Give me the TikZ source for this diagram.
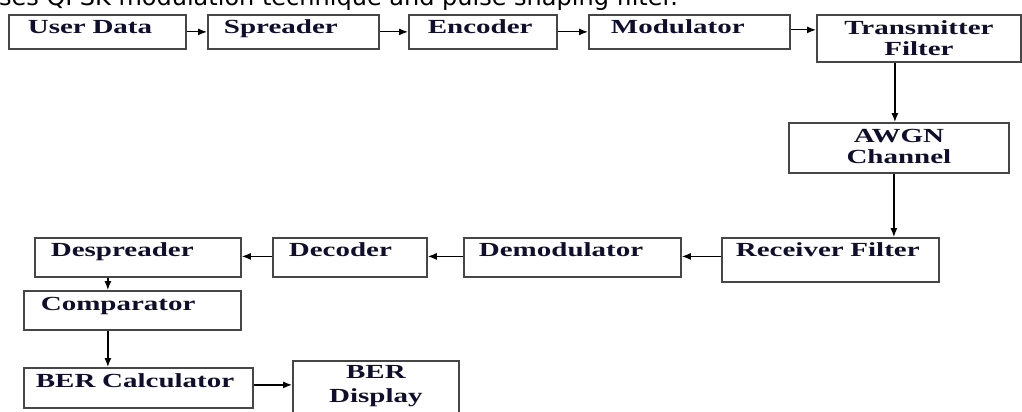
\documentclass[tikz,border=0pt]{standalone}
\usepackage{fontspec}
\usetikzlibrary{positioning,calc,arrows.meta}
\newfontfamily\boxfont{Liberation Serif}[FakeStretch=1.45]
\newfontfamily\capfont{DejaVu Sans}
\definecolor{boxline}{RGB}{70,70,70}
\definecolor{boxtext}{RGB}{15,15,45}
\tikzset{>={Latex[length=9pt,width=7pt]}}
\tikzset{
  blk/.style={draw=boxline, line width=1.8pt, rectangle, anchor=north west,
    inner ysep=0pt, text=boxtext, font=\boxfont\bfseries\fontsize{20}{21}\selectfont},
  lft/.style={align=left},
  mid/.style={align=center, inner xsep=4pt},
  flow/.style={->, line width=1.2pt, black}
}

\begin{document}
\begin{tikzpicture}[x=1pt, y=-1pt, line join=miter]
  \useasboundingbox (0,0) rectangle (1022,412);
  \clip (0,0) rectangle (1022,412);

  % Caption line, cut at the top
  \node[font=\capfont\fontsize{24}{28}\selectfont, anchor=base west, inner sep=0pt] (cap)
    at (-1,6) {ses QPSK modulation technique and pulse shaping filter.};

  % Transmitter side
  \node[blk, lft, inner xsep=19pt, text width=139pt, text height=19pt, text depth=15pt] (ud) at (8,14) {User Data};
  \node[blk, lft, inner xsep=16pt, text width=139pt, text height=19pt, text depth=15pt] (sp) at (207,14) {Spreader};
  \node[blk, lft, inner xsep=19pt, text width=110pt, text height=19pt, text depth=15pt] (en) at (408,14) {Encoder};
  \node[blk, lft, inner xsep=22pt, text width=157pt, text height=19pt, text depth=15pt] (mo) at (588,14) {Modulator};
  \node[blk, mid, text width=196pt, text height=20pt, text depth=27pt] (tx) at (816,14) {Transmitter\\Filter};

  % Channel
  \node[blk, mid, text width=212pt, text height=20pt, text depth=30pt] (aw) at (788,122) {AWGN\\Channel};

  % Receiver side
  \node[blk, lft, inner xsep=14pt, text width=189pt, text height=19pt, text depth=25pt] (rx) at (721,237) {Receiver Filter};
  \node[blk, lft, inner xsep=15pt, text width=187pt, text height=19pt, text depth=20pt] (dm) at (463,237) {Demodulator};
  \node[blk, lft, inner xsep=16pt, text width=122pt, text height=19pt, text depth=20pt] (dc) at (272,237) {Decoder};
  \node[blk, lft, inner xsep=16pt, text width=174pt, text height=19pt, text depth=20pt] (ds) at (34,237) {Despreader};
  \node[blk, lft, inner xsep=17pt, text width=183pt, text height=20pt, text depth=19pt] (cm) at (23,290) {Comparator};
  \node[blk, lft, inner xsep=12pt, text width=205pt, text height=20pt, text depth=20pt] (bc) at (23,367) {BER Calculator};
  \node[blk, mid, text width=158pt, text height=18pt, text depth=47pt] (bd) at (292,360) {BER\\[3pt]Display};

  % Arrows
  \foreach \a/\b in {ud/sp,sp/en,en/mo}
    \draw[flow] (\a.east) -- (\b.west);
  \draw[flow] ([yshift=2pt]mo.east) -- ([yshift=2pt]mo.east -| tx.west);
  \draw[flow] ([xshift=-24pt]tx.south) -- ([xshift=-24pt]tx.south |- aw.north);
  \draw[flow] ([xshift=-5pt]aw.south) -- ([xshift=-5pt]aw.south |- rx.north);
  \foreach \a/\b in {rx/dm,dm/dc,dc/ds}
    \draw[flow] ([yshift=1pt]\a.west |- dm.east) -- ([yshift=1pt]dm.east -| \b.east);
  \draw[flow] ([xshift=-30pt]ds.south) -- ([xshift=-30pt]ds.south |- cm.north);
  \draw[flow] ([xshift=-24.5pt]cm.south) -- ([xshift=-24.5pt]cm.south |- bc.north);
  \draw[flow] ([yshift=3pt]bc.east) -- ([yshift=3pt]bc.east -| bd.west);
\end{tikzpicture}
\end{document}
